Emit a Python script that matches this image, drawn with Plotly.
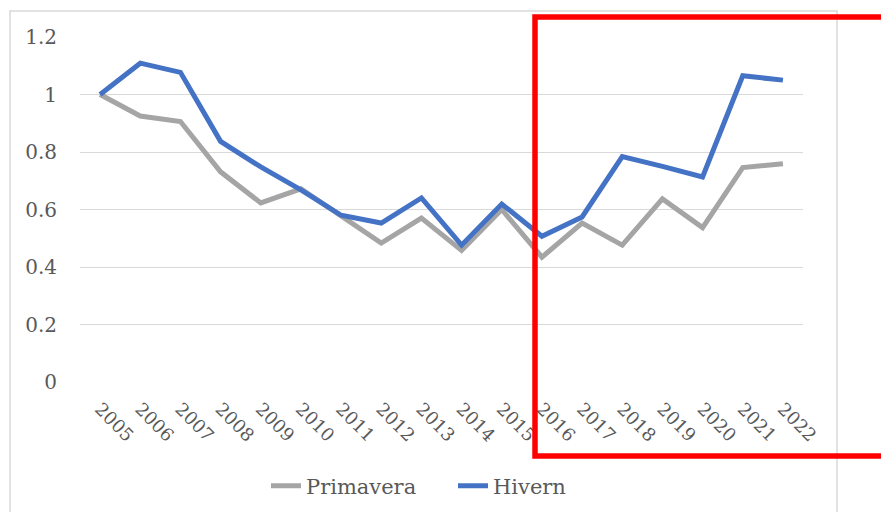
import plotly.graph_objects as go

years = [str(y) for y in range(2005, 2023)]
primavera = [1.0, 0.925, 0.906, 0.731, 0.623, 0.672, 0.578, 0.483, 0.570, 0.458, 0.600,
             0.434, 0.553, 0.476, 0.637, 0.537, 0.746, 0.759]
hivern = [1.0, 1.109, 1.077, 0.837, 0.748, 0.668, 0.580, 0.553, 0.640, 0.476, 0.619,
          0.507, 0.574, 0.784, 0.750, 0.713, 1.065, 1.050]
y_ticks = [0, 0.2, 0.4, 0.6, 0.8, 1, 1.2]
y_labels = ["0", "0.2", "0.4", "0.6", "0.8", "1", "1.2"]

FONT = "DejaVu Serif"
TXT = "#595959"

fig = go.Figure()
fig.add_trace(go.Scatter(x=years, y=primavera, mode="lines", name="Primavera",
                         line=dict(color="#A5A5A5", width=5)))
fig.add_trace(go.Scatter(x=years, y=hivern, mode="lines", name="Hivern",
                         line=dict(color="#4472C4", width=5)))

# page has an 8px body margin; work in window pixels and offset
OFF = 8
W, H = 889 - OFF, 512 - OFF
L, T = 80 - OFF, 37 - OFF
R = W - (803 - OFF)
B = H - (382 - OFF)
pw, ph = W - L - R, H - T - B

def px_x(px):
    return (px - OFF - L) / pw

def px_y(py):
    return (H - B - (py - OFF)) / ph

def cx(px):
    return (px - OFF) / W

def cy(py):
    return (H - (py - OFF)) / H

fig.update_layout(
    width=W, height=H, autosize=False,
    margin=dict(l=L, r=R, t=T, b=B, autoexpand=False),
    paper_bgcolor="white", plot_bgcolor="white",
    font=dict(family=FONT, color=TXT, size=19),
    showlegend=True,
    legend=dict(orientation="h", xref="container", yref="container",
                x=cx(266), xanchor="left", y=cy(486), yanchor="middle",
                font=dict(family=FONT, color=TXT, size=21), traceorder="normal",
                entrywidth=142, entrywidthmode="pixels"),
    xaxis=dict(type="category", range=[-0.5, 17.5], showgrid=False, zeroline=False,
               showline=False, ticks="", tickangle=45, tickfont=dict(size=18, color=TXT),
               ticklabelstandoff=12, automargin=False),
    yaxis=dict(range=[0, 1.2], tickvals=y_ticks, ticktext=y_labels, showgrid=True,
               gridcolor="#D9D9D9", gridwidth=1.2, zeroline=False, showline=False,
               ticks="", tickfont=dict(size=20, color=TXT), ticklabelstandoff=22,
               automargin=False),
    shapes=[
        dict(type="rect", xref="paper", yref="paper",
             x0=px_x(10), x1=px_x(837), y0=px_y(530), y1=px_y(11),
             line=dict(color="#D9D9D9", width=1.5), fillcolor="rgba(0,0,0,0)", layer="below"),
        dict(type="rect", xref="paper", yref="paper",
             x0=px_x(535), x1=px_x(905), y0=px_y(456), y1=px_y(17),
             line=dict(color="#FF0000", width=5.5), fillcolor="rgba(0,0,0,0)", layer="above"),
    ],
)

fig.write_html("out.html")
